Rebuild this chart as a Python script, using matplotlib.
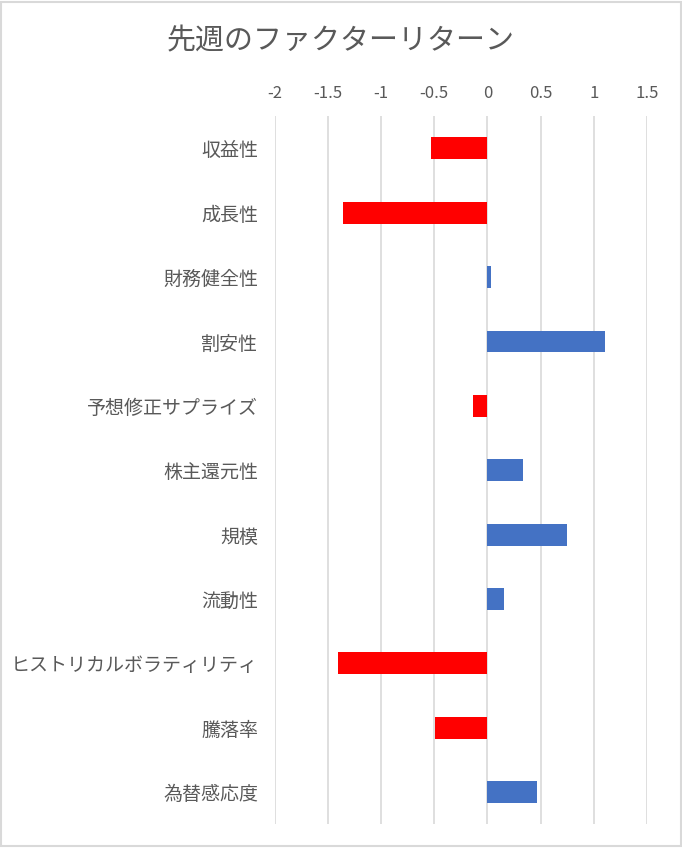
import numpy as np
import matplotlib
matplotlib.use("Agg")
import matplotlib.pyplot as plt

plt.rcParams['font.family'] = ['Noto Sans CJK JP', 'DejaVu Sans']

factors = ['収益性', '成長性', '財務健全性', '割安性', '予想修正サプライズ', '株主還元性',
           '規模', '流動性', 'ヒストリカルボラティリティ', '騰落率', '為替感応度']
returns = [-0.53, -1.36, 0.03, 1.11, -0.14, 0.33, 0.75, 0.16, -1.41, -0.49, 0.47]
ticks = [-2, -1.5, -1, -0.5, 0, 0.5, 1, 1.5]
tick_labels = ['-2', '-1.5', '-1', '-0.5', '0', '0.5', '1', '1.5']

txt = '#595959'
colors = ['#FF0000' if v < 0 else '#4472C4' for v in returns]

fig = plt.figure(figsize=(6.82, 8.48), dpi=100)
ax = fig.add_axes([0.403, 0.028, 0.5455, 0.835])

y = np.arange(len(factors))
ax.barh(y, returns, height=0.34, color=colors, zorder=3)
ax.set_ylim(len(factors) - 0.5, -0.5)
ax.set_xlim(-2, 1.5)

ax.set_xticks(ticks)
ax.set_xticklabels(tick_labels)
ax.xaxis.tick_top()
ax.set_yticks(y)
ax.set_yticklabels(factors, va='center_baseline')
ax.tick_params(axis='both', length=0, colors=txt)
ax.tick_params(axis='x', pad=10, labelsize=12)
ax.tick_params(axis='y', pad=12, labelsize=13.7)
ax.grid(axis='x', color='#d9d9d9', linewidth=1.2, zorder=0)
for s in ax.spines.values():
    s.set_visible(False)

fig.text(0.5, 0.951, '先週のファクターリターン', ha='center', va='center',
         fontsize=20.9, color=txt)

# outer frame
fig.patches.append(plt.Rectangle((0.002, 0.002), 0.996, 0.996, transform=fig.transFigure,
                                 fill=False, edgecolor='#d9d9d9', linewidth=1.5))

fig.savefig('out.png', dpi=100)
